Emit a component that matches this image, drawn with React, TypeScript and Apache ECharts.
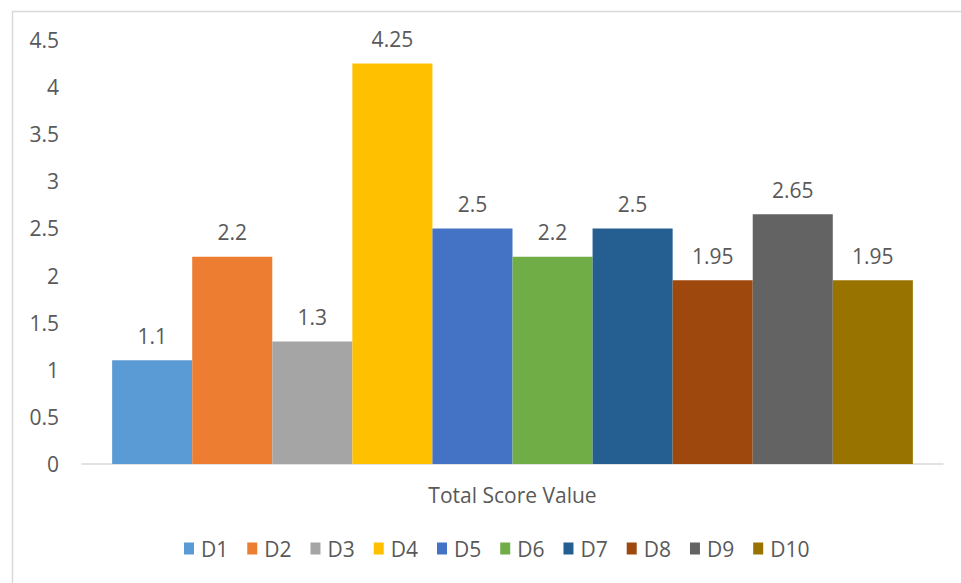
import React, { useEffect, useRef } from "react";
import * as echarts from "echarts";

const categories = ["Total Score Value"];
const seriesNames = ["D1", "D2", "D3", "D4", "D5", "D6", "D7", "D8", "D9", "D10"];
const seriesValues = [1.1, 2.2, 1.3, 4.25, 2.5, 2.2, 2.5, 1.95, 2.65, 1.95];
const colors = ["#5B9BD5", "#ED7D31", "#A5A5A5", "#FFC000", "#4472C4", "#70AD47", "#255E91", "#9E480E", "#636363", "#997300"];
const yTicks = { min: 0, max: 4.5, interval: 0.5 };

const FONT = "Open Sans";
const TEXT = "#595959";
const FS = 21;

export default function App() {
  const ref = useRef<HTMLDivElement>(null);
  useEffect(() => {
    const chart = echarts.init(ref.current!, null, { renderer: "svg" });
    chart.setOption({
      animation: false,
      color: colors,
      textStyle: { fontFamily: FONT, color: TEXT },
      graphic: [
        {
          type: "rect",
          shape: { x: 12.5, y: 11.5, width: 1000, height: 1000 },
          style: { fill: "none", stroke: "#D9D9D9", lineWidth: 1.5 },
          silent: true,
        },
      ],
      grid: { left: 82, right: 18, top: 40, bottom: 119, containLabel: false },
      legend: {
        data: seriesNames,
        bottom: 19,
        left: 179,
        itemWidth: 10,
        itemHeight: 12,
        itemGap: 19,
        icon: "rect",
        textStyle: { fontFamily: FONT, fontSize: FS, color: TEXT, padding: [0, 0, 0, 2] },
      },
      xAxis: {
        type: "category",
        data: categories,
        axisLine: { lineStyle: { color: "#D9D9D9", width: 1.5 } },
        axisTick: { show: false },
        axisLabel: { fontFamily: FONT, fontSize: FS, color: TEXT, margin: 20 },
      },
      yAxis: {
        type: "value",
        min: yTicks.min,
        max: yTicks.max,
        interval: yTicks.interval,
        splitLine: { show: false },
        axisLine: { show: false },
        axisTick: { show: false },
        axisLabel: { fontFamily: FONT, fontSize: FS, color: TEXT, margin: 23 },
      },
      series: seriesNames.map((name, i) => ({
        name,
        type: "bar",
        data: [seriesValues[i]],
        barGap: "0%",
        barCategoryGap: "7%",
        label: {
          show: true,
          position: "top",
          distance: 14,
          fontFamily: FONT,
          fontSize: FS,
          color: TEXT,
        },
      })),
    });
    return () => chart.dispose();
  }, []);
  return (
    <div
      ref={ref}
      style={{ position: "fixed", left: 0, top: 0, width: 961, height: 583, background: "#fff" }}
    />
  );
}
